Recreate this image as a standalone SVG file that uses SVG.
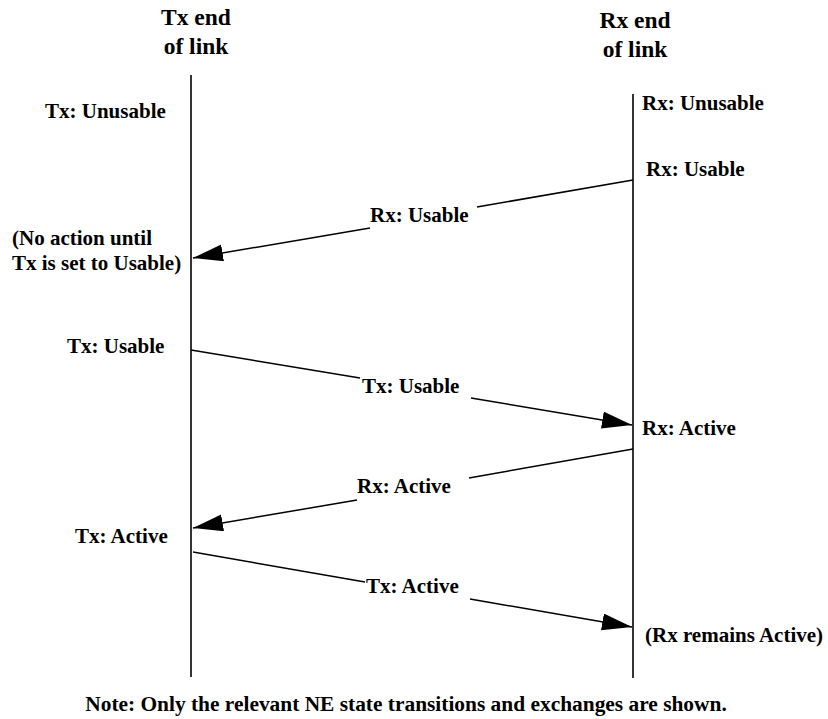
<svg xmlns="http://www.w3.org/2000/svg" width="828" height="719" viewBox="0 0 828 719">
<defs>
<style>
text{font-family:"Liberation Serif","Times New Roman",serif;font-weight:bold;font-size:21px;fill:#000}
.title{font-size:23.5px;text-anchor:middle}
.note{font-size:21.4px;text-anchor:middle}
.life{stroke:#000;stroke-width:1.6;fill:none}
.msg{stroke:#000;stroke-width:1.5;fill:none}
</style>
<marker id="ah" markerUnits="userSpaceOnUse" markerWidth="32" markerHeight="18" refX="30" refY="8.5" orient="auto">
<path d="M0,0 L30,8.5 L0,17 Z" fill="#000"/>
</marker>
</defs>
<rect width="828" height="719" fill="#fff"/>
<g font-family="'Liberation Serif', 'Times New Roman', serif" font-weight="bold">
<g id="tx-end">
<text class="title" x="196" y="25">Tx end</text>
<text class="title" x="196" y="54">of link</text>
<line class="life" x1="191" y1="75" x2="191" y2="677"/>
</g>
<g id="rx-end">
<text class="title" x="635" y="28">Rx end</text>
<text class="title" x="635" y="57">of link</text>
<line class="life" x1="633" y1="94" x2="633" y2="678"/>
</g>
<g id="states">
<text x="45" y="118">Tx: Unusable</text>
<text x="642" y="110">Rx: Unusable</text>
<text x="646" y="176">Rx: Usable</text>
<text x="12" y="245">(No action until</text>
<text x="12" y="270">Tx is set to Usable)</text>
<text x="67" y="353">Tx: Usable</text>
<text x="642" y="435">Rx: Active</text>
<text x="75" y="543">Tx: Active</text>
<text x="645" y="642">(Rx remains Active)</text>
</g>
<g id="connectors">
<line class="msg" x1="633" y1="180" x2="477" y2="207"/>
<line class="msg" x1="370" y1="228" x2="193" y2="258" marker-end="url(#ah)"/>
<text x="370" y="222">Rx: Usable</text>
<line class="msg" x1="191" y1="350" x2="360" y2="378"/>
<line class="msg" x1="471" y1="398" x2="632" y2="425" marker-end="url(#ah)"/>
<text x="362" y="393">Tx: Usable</text>
<line class="msg" x1="633" y1="449" x2="469" y2="478"/>
<line class="msg" x1="357" y1="500" x2="193" y2="528" marker-end="url(#ah)"/>
<text x="357" y="493">Rx: Active</text>
<line class="msg" x1="193" y1="552" x2="365" y2="582"/>
<line class="msg" x1="470" y1="599" x2="632" y2="627" marker-end="url(#ah)"/>
<text x="366" y="593">Tx: Active</text>
</g>
<text class="note" x="406" y="711">Note: Only the relevant NE state transitions and exchanges are shown.</text>
</g>
</svg>
